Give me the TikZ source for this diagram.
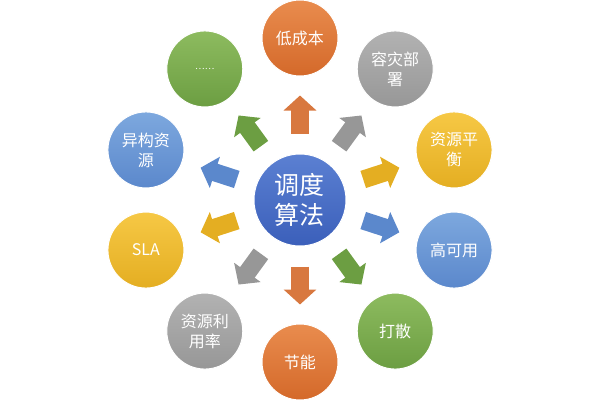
\documentclass[tikz,border=0pt]{standalone}
\usepackage{fontspec}
\newfontfamily\cjk{Noto Sans CJK SC}
\usetikzlibrary{arrows.meta}

\definecolor{orangeT}{HTML}{E98C4E}
\definecolor{orangeB}{HTML}{D4692A}
\definecolor{grayT}{HTML}{B2B2B2}
\definecolor{grayB}{HTML}{979797}
\definecolor{yellowT}{HTML}{F6C845}
\definecolor{yellowB}{HTML}{E4AE22}
\definecolor{blueT}{HTML}{7DA8DE}
\definecolor{blueB}{HTML}{5B88CC}
\definecolor{greenT}{HTML}{8DBB5F}
\definecolor{greenB}{HTML}{6C9E42}
\definecolor{coreT}{HTML}{5B80D2}
\definecolor{coreB}{HTML}{3B5FBA}

\begin{document}
\begin{tikzpicture}[
      ball/.style={circle, draw=white, line width=1pt, minimum size=76pt,
        inner sep=0pt, align=center, text=white,
        font=\cjk\fontsize{16}{20}\selectfont},
      orangeball/.style={ball, top color=orangeT, bottom color=orangeB},
      grayball/.style={ball, top color=grayT, bottom color=grayB},
      yellowball/.style={ball, top color=yellowT, bottom color=yellowB},
      blueball/.style={ball, top color=blueT, bottom color=blueB},
      greenball/.style={ball, top color=greenT, bottom color=greenB},
      core/.style={ball, minimum size=92pt, top color=coreT, bottom color=coreB,
        font=\cjk\fontsize{25}{30}\selectfont},
      push/.style={line width=18pt, -{Triangle[width=32pt,length=15pt]},
        shorten <=20pt, shorten >=19pt}
    ]
    \useasboundingbox (-300pt,-200pt) rectangle (300pt,200pt);

    % Centre
    \node[core] (algo) at (0,0) {调度\\算法};

    % Outer ring
    \node[orangeball] (cost)     at (90:162pt)   {低成本};
    \node[grayball]   (disaster) at (54:162pt)   {容灾部\\署};
    \node[yellowball] (balance)  at (18:162pt)   {资源平\\衡};
    \node[blueball]   (avail)    at (-18:162pt)  {高可用};
    \node[greenball]  (spread)   at (-54:162pt)  {打散};
    \node[orangeball] (energy)   at (-90:162pt)  {节能};
    \node[grayball]   (util)     at (-126:162pt) {资源利\\用率};
    \node[yellowball] (sla)      at (-162:162pt) {SLA};
    \node[blueball]   (hetero)   at (162:162pt)  {异构资\\源};
    \node[greenball, font=\cjk\fontsize{9}{11}\selectfont]
                      (more)     at (126:162pt)  {……};

    % Block arrows
    \draw[push, orangeB!90]  (algo)--(cost);
    \draw[push, grayB]       (algo)--(disaster);
    \draw[push, yellowB]     (algo)--(balance);
    \draw[push, blueB]       (algo)--(avail);
    \draw[push, greenB]      (algo)--(spread);
    \draw[push, orangeB!90]  (algo)--(energy);
    \draw[push, grayB]       (algo)--(util);
    \draw[push, yellowB]     (algo)--(sla);
    \draw[push, blueB]       (algo)--(hetero);
    \draw[push, greenB]      (algo)--(more);
  \end{tikzpicture}
\end{document}
